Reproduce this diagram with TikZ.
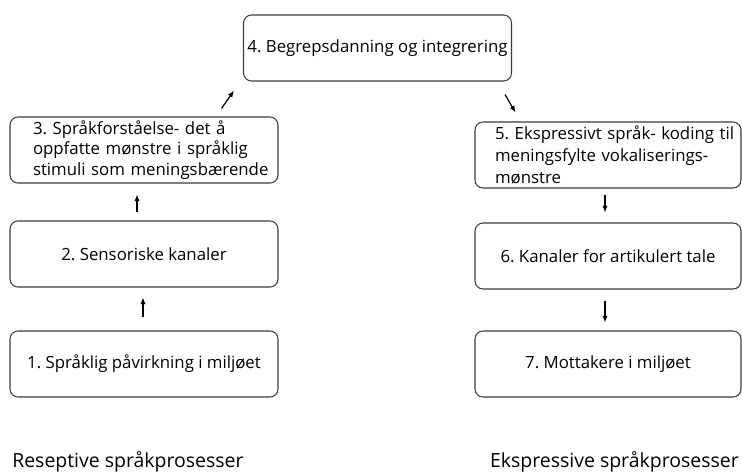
\documentclass[tikz,border=0pt]{standalone}
\usepackage{fontspec}
\setmainfont{Open Sans}
\usepackage{xcolor}
\usepackage{tikz}
\usetikzlibrary{arrows.meta, positioning, calc}
\definecolor{boxline}{RGB}{60,60,60}
\frenchspacing

\begin{document}
\begin{tikzpicture}[x=0.75pt, y=-0.75pt,
    prosess/.style={draw=boxline, line width=0.8pt, rounded corners=6pt,
      minimum width=201pt, minimum height=49.5pt, inner sep=0pt,
      font=\fontsize{12.6}{15.6}\selectfont},
    pil/.style={-{Latex[length=5pt,width=4pt]}, line width=0.9pt},
    overskrift/.style={font=\fontsize{14.6}{17}\selectfont, inner sep=0pt}]
  \useasboundingbox (0,0) rectangle (742,475);

  % mottak (venstre kolonne)
  \node[prosess, text width=166.5pt, inner xsep=17.25pt, align=left] (n3) at (144,150)
    {\mbox{3. Språkforståelse- det å}\\\mbox{oppfatte mønstre i språklig}\\\mbox{stimuli som meningsbærende}};
  \node[prosess, align=center] (n2) at (144,254) {2. Sensoriske kanaler};
  \node[prosess, align=center] (n1) at (144,364) {1. Språklig påvirkning i miljøet};

  % integrering (topp)
  \node[prosess, align=center] (n4) at (377.5,48) {4. Begrepsdanning og integrering};

  % uttrykk (høyre kolonne)
  \node[prosess, minimum width=199.5pt, text width=169.5pt, inner xsep=15pt, align=left,
        font=\fontsize{12.6}{16.8}\selectfont] (n5) at (608,155)
    {\mbox{5. Ekspressivt språk- koding til}\\\mbox{meningsfylte vokaliserings-}\\\mbox{mønstre}};
  \node[prosess, minimum width=199.5pt, align=center] (n6) at (608,256) {6. Kanaler for artikulert tale};
  \node[prosess, minimum width=199.5pt, align=center] (n7) at (608,364) {7. Mottakere i miljøet};

  % piler
  \draw[pil] ($(n1.north)+(-1,-13)$) -- ($(n2.south)+(-1,10)$);
  \draw[pil] ($(n2.north)+(-7,-8)$) -- ($(n3.south)+(-7,11)$);
  \draw[pil] ($(n3.north east)+(-57,-8)$) -- ($(n4.south west)+(-9,9)$);
  \draw[pil] ($(n4.south east)+(-7,13)$) -- ($(n5.north west)+(41,-9)$);
  \draw[pil] ($(n5.south)+(-3,6)$) -- ($(n6.north)+(-3,-10)$);
  \draw[pil] ($(n6.south)+(-3,11)$) -- ($(n7.north)+(-3,-8)$);

  % kolonnetitler
  \node[overskrift, anchor=west] (tv) at (12,462) {Reseptive språkprosesser};
  \node[overskrift, anchor=east] (th) at (739,462) {Ekspressive språkprosesser};
\end{tikzpicture}
\end{document}
